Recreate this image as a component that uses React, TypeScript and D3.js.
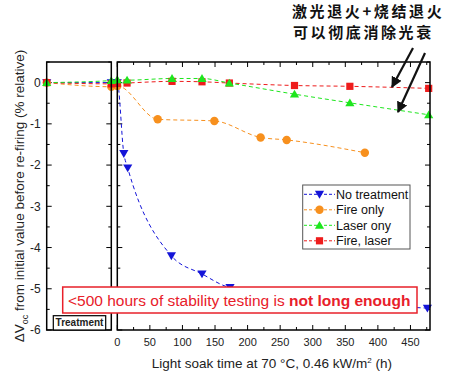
import React from "react";
import * as d3 from "d3";

// ---------- data ----------
const seriesNames = ["No treatment", "Fire only", "Laser ony", "Fire, laser"];
const seriesColors = ["#1414d8", "#f7901e", "#1ee61e", "#ee1c1c"];
const seriesMarkers = ["triDown", "circle", "triUp", "square"];

// treatment panel values (before, after re-firing treatment)
const treatNoTreatment = [0, 0];
const treatFireOnly = [0, -0.1];
const treatLaserOnly = [0, 0.05];
const treatFireLaser = [0, -0.03];

// light soak hours and values
const hoursNoTreatment = [0, 10, 16, 83, 130, 173, 476];
const valuesNoTreatment = [0, -1.72, -2.07, -4.2, -4.64, -4.97, -5.47];
const hoursFireOnly = [0, 62, 149, 220, 260, 380];
const valuesFireOnly = [-0.08, -0.89, -0.93, -1.33, -1.39, -1.7];
const hoursLaserOnly = [0, 15, 84, 130, 172, 272, 357, 478];
const valuesLaserOnly = [0.07, 0.06, 0.1, 0.1, -0.01, -0.28, -0.49, -0.78];
const hoursFireLaser = [0, 15, 84, 130, 172, 272, 357, 478];
const valuesFireLaser = [-0.02, -0.01, 0.03, 0.02, -0.01, -0.07, -0.09, -0.14];

const xTickValues = [0, 50, 100, 150, 200, 250, 300, 350, 400, 450];
const yTickValues = [0, -1, -2, -3, -4, -5, -6];
const treatCategories = ["before", "after"];

const noteLines = ["激光退火+烧结退火", "可以彻底消除光衰"];
const boxTextNormal = "<500 hours of stability testing is ";
const boxTextBold = "not long enough";

// ---------- layout ----------
const W = 453;
const H = 377;
const top = 62;
const bottom = 330;
const lpL = 46.7;
const lpR = 111.3;
const rpL = 117.3;
const rpR = 430;
const FONT = "'Liberation Sans', Arial, sans-serif";
const CJK = "'Noto Sans CJK SC', sans-serif";

const y = d3.scaleLinear().domain([-6, 0.5]).range([bottom, top]);
const x = d3.scaleLinear().domain([0, 480]).range([rpL, rpR]);
const xt = d3.scalePoint<string>().domain(treatCategories).range([lpL, lpR]);

const treat = [treatNoTreatment, treatFireOnly, treatLaserOnly, treatFireLaser];
const hours = [hoursNoTreatment, hoursFireOnly, hoursLaserOnly, hoursFireLaser];
const vals = [valuesNoTreatment, valuesFireOnly, valuesLaserOnly, valuesFireLaser];

function Marker({ kind, cx, cy, color }: { kind: string; cx: number; cy: number; color: string }) {
  if (kind === "circle") return <circle cx={cx} cy={cy} r={4.2} fill={color} />;
  if (kind === "square") return <rect x={cx - 3.6} y={cy - 3.6} width={7.2} height={7.2} fill={color} />;
  const s = 4.6;
  if (kind === "triDown")
    return <path d={`M${cx - s},${cy - s * 0.75}L${cx + s},${cy - s * 0.75}L${cx},${cy + s * 0.95}Z`} fill={color} />;
  return <path d={`M${cx - s},${cy + s * 0.75}L${cx + s},${cy + s * 0.75}L${cx},${cy - s * 0.95}Z`} fill={color} />;
}

export default function App() {
  const line = d3
    .line<[number, number]>()
    .x((d) => d[0])
    .y((d) => d[1])
    .curve(d3.curveMonotoneX);

  const series = seriesNames.map((name, i) => {
    const pts: [number, number][] = [];
    treatCategories.forEach((c, j) => pts.push([xt(c) as number, y(treat[i][j])]));
    hours[i].forEach((h, j) => pts.push([x(h), y(vals[i][j])]));
    return { name, color: seriesColors[i], marker: seriesMarkers[i], pts };
  });

  const drawOrder = [1, 0, 3, 2];

  const yMinor = d3.range(-6, 0.51, 0.5);
  const xMinor = d3.range(0, 481, 25);

  const tickStroke = { stroke: "#000", strokeWidth: 1 };

  return (
    <svg width={W} height={H} style={{ display: "block", position: "absolute", left: 0, top: 0, background: "#fff" }}>
      <defs>
        <marker id="ah" viewBox="0 0 10 10" refX="9" refY="5" markerWidth="5" markerHeight="5" orient="auto">
          <path d="M0,0L10,5L0,10Z" fill="#111" />
        </marker>
      </defs>
      <rect x={0} y={0} width={W} height={H} fill="#fff" />

      {/* ticks */}
      {yMinor.map((v) => {
        const major = Math.abs(v - Math.round(v)) < 1e-6;
        const len = major ? 5 : 3;
        return (
          <g key={"yt" + v}>
            <line x1={lpL} x2={lpL + len} y1={y(v)} y2={y(v)} {...tickStroke} />
            <line x1={lpR} x2={lpR - len} y1={y(v)} y2={y(v)} {...tickStroke} />
            <line x1={rpL} x2={rpL + len} y1={y(v)} y2={y(v)} {...tickStroke} />
            <line x1={rpR} x2={rpR - len} y1={y(v)} y2={y(v)} {...tickStroke} />
          </g>
        );
      })}
      {xMinor.map((v) => {
        const major = v % 50 === 0;
        const len = major ? 5 : 3;
        return (
          <g key={"xt" + v}>
            <line x1={x(v)} x2={x(v)} y1={bottom} y2={bottom - len} {...tickStroke} />
            <line x1={x(v)} x2={x(v)} y1={top} y2={top + len} {...tickStroke} />
          </g>
        );
      })}

      {/* series lines */}
      {drawOrder.map((i) => (
        <path
          key={"l" + i}
          d={line(series[i].pts) || ""}
          fill="none"
          stroke={series[i].color}
          strokeWidth={1}
          strokeDasharray="4,3"
        />
      ))}
      {drawOrder.map((i) =>
        series[i].pts.map((p, j) => (
          <Marker key={"m" + i + "-" + j} kind={series[i].marker} cx={p[0]} cy={p[1]} color={series[i].color} />
        ))
      )}

      {/* panel frames */}
      <rect x={lpL} y={top} width={lpR - lpL} height={bottom - top} fill="none" stroke="#000" strokeWidth={1.5} />
      <rect x={rpL} y={top} width={rpR - rpL} height={bottom - top} fill="none" stroke="#000" strokeWidth={1.5} />

      {/* y tick labels */}
      {yTickValues.map((v) => (
        <text key={"yl" + v} x={lpL - 6} y={y(v) + 4.2} textAnchor="end" fontFamily={FONT} fontSize={12} fill="#222">
          {v}
        </text>
      ))}
      {/* x tick labels */}
      {xTickValues.map((v) => (
        <text key={"xl" + v} x={x(v)} y={345.5} textAnchor="middle" fontFamily={FONT} fontSize={11} fill="#222">
          {v}
        </text>
      ))}

      {/* axis titles */}
      <text x={151.7} y={368} fontFamily={FONT} fontSize={13.5} fill="#222">
        Light soak time at 70 °C, 0.46 kW/m
        <tspan dy={-5} fontSize={8}>2</tspan>
        <tspan dy={5}> (h)</tspan>
      </text>
      <text transform={`translate(24,196) rotate(-90)`} textAnchor="middle" fontFamily={FONT} fontSize={13.5} fill="#222">
        ΔV<tspan dy={4} fontSize={9}>oc</tspan>
        <tspan dy={-4}> from initial value before re-firing (% relative)</tspan>
      </text>

      {/* Treatment label */}
      <rect x={53.3} y={315.7} width={52.4} height={bottom - 315.7} fill="#fff" stroke="#000" strokeWidth={1.2} />
      <text x={79.5} y={325.5} textAnchor="middle" fontFamily={FONT} fontSize={10} fontWeight="bold" fill="#222">
        Treatment
      </text>

      {/* red box */}
      <rect x={62.7} y={287} width={354.3} height={26} fill="#fff" stroke="#e8202a" strokeWidth={1.5} />
      <text x={68} y={306} fontFamily={FONT} fontSize={15.5} fill="#e8202a">
        {boxTextNormal}
        <tspan fontWeight="bold">{boxTextBold}</tspan>
      </text>

      {/* legend */}
      <rect x={302.7} y={185} width={107.3} height={64} fill="#fff" stroke="#555" strokeWidth={1} />
      {series.map((s, i) => {
        const cy = 194.3 + i * 15.5;
        return (
          <g key={"lg" + i}>
            <line x1={304} x2={335} y1={cy} y2={cy} stroke={s.color} strokeWidth={1} strokeDasharray="3,2" />
            <Marker kind={s.marker} cx={319.5} cy={cy} color={s.color} />
            <text x={336} y={cy + 4.5} fontFamily={FONT} fontSize={12.5} fill="#111">
              {s.name}
            </text>
          </g>
        );
      })}

      {/* annotation */}
      <text x={292} y={16.5} fontFamily={CJK} fontSize={15} letterSpacing={2.6} fontWeight={700} fill="#111">
        {noteLines[0]}
      </text>
      <text x={293} y={38} fontFamily={CJK} fontSize={15} letterSpacing={2.6} fontWeight={700} fill="#111">
        {noteLines[1]}
      </text>
      <line x1={413} y1={48} x2={392} y2={87} stroke="#111" strokeWidth={2.2} markerEnd="url(#ah)" />
      <line x1={425} y1={53} x2={398} y2={112} stroke="#111" strokeWidth={2.2} markerEnd="url(#ah)" />
    </svg>
  );
}
